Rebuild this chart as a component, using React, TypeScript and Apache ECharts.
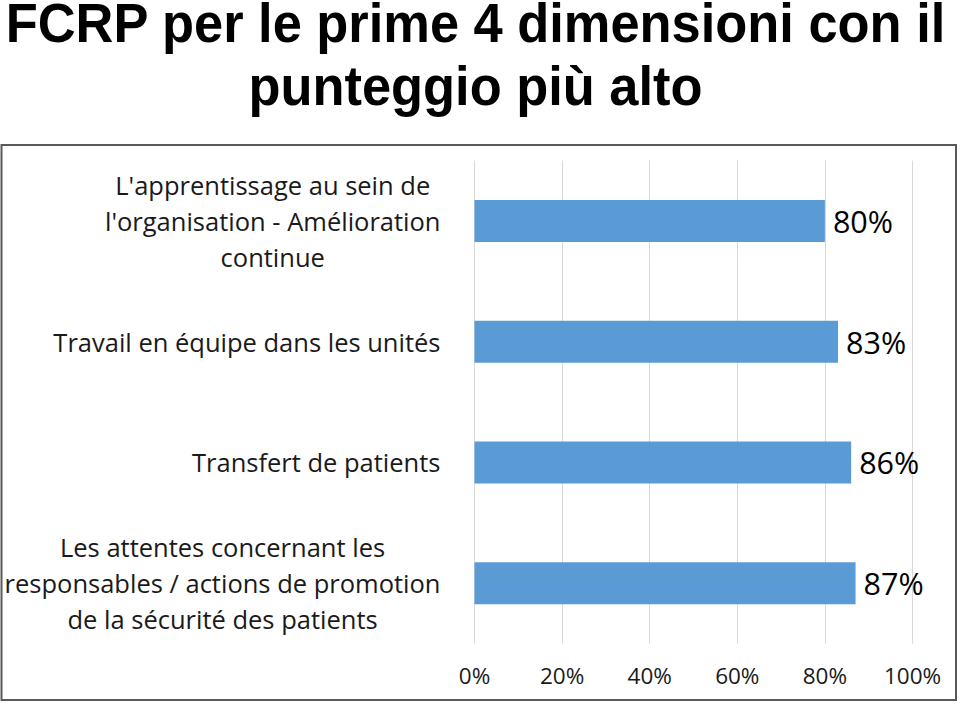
import React, { useEffect, useRef } from 'react';
import * as echarts from 'echarts';

const titleLines = ['FCRP per le prime 4 dimensioni con il', 'punteggio più alto'];
const categories = [
  "L'apprentissage au sein de\nl'organisation - Amélioration\ncontinue",
  'Travail en équipe dans les unités',
  'Transfert de patients',
  'Les attentes concernant les\nresponsables / actions de promotion\nde la sécurité des patients',
];
const values = [80, 83, 86, 87];
const xMin = 0;
const xMax = 100;
const xStep = 20;

const LABEL_FONT = '"Open Sans", "Noto Sans", sans-serif';
const TITLE_FONT = '"Liberation Sans", Arial, Helvetica, sans-serif';

export default function App() {
  const ref = useRef<HTMLDivElement>(null);
  useEffect(() => {
    document.body.style.margin = '0';
    const chart = echarts.init(ref.current!, null, { renderer: 'svg' });
    const titleSize = 56;
    const ctx = document.createElement('canvas').getContext('2d')!;
    ctx.font = `bold ${titleSize}px ${TITLE_FONT}`;
    const w1 = ctx.measureText(titleLines[0]).width || 1000;
    const sx = 941 / w1;

    chart.setOption({
      animation: false,
      grid: { left: 474.5, right: 960 - 912.5, top: 160.6, bottom: 704 - 643.6, containLabel: false },
      xAxis: {
        type: 'value',
        min: xMin,
        max: xMax,
        interval: xStep,
        axisLine: { show: false },
        axisTick: { show: false },
        splitLine: { show: true, lineStyle: { color: '#d9d9d9', width: 1 } },
        axisLabel: {
          formatter: '{value}%',
          fontFamily: LABEL_FONT,
          fontSize: 22.5,
          color: '#1a1a1a',
          margin: 20,
        },
      },
      yAxis: {
        type: 'category',
        data: categories,
        inverse: true,
        axisLine: { show: false },
        axisTick: { show: false },
        splitLine: { show: false },
        axisLabel: {
          margin: 34,
          align: 'right',
          formatter: (v: string) => v.split('\n').map((l) => `{c|${l}}`).join('\n'),
          rich: {
            c: {
              align: 'center',
              fontFamily: LABEL_FONT,
              fontSize: 25.5,
              lineHeight: 36,
              color: '#1a1a1a',
            },
          },
        },
      },
      series: [
        {
          type: 'bar',
          data: values,
          barWidth: 42,
          itemStyle: { color: '#5B9BD5' },
          label: {
            show: true,
            position: 'right',
            distance: 8,
            formatter: '{c}%',
            fontFamily: LABEL_FONT,
            fontSize: 30.5,
            color: '#000',
          },
        },
      ],
      graphic: [
        {
          type: 'rect',
          shape: { x: 1.5, y: 145, width: 954.5, height: 555 },
          style: { fill: 'none', stroke: '#595959', lineWidth: 2 },
          silent: true,
        },
        {
          type: 'text',
          x: 475.5,
          y: 22,
          scaleX: sx,
          style: {
            text: titleLines[0],
            font: `bold ${titleSize}px ${TITLE_FONT}`,
            lineHeight: 44,
            fill: '#000',
            textAlign: 'center',
            textVerticalAlign: 'middle',
          },
        },
        {
          type: 'text',
          x: 475.5,
          y: 85.5,
          scaleX: sx,
          style: {
            text: titleLines[1],
            font: `bold ${titleSize}px ${TITLE_FONT}`,
            lineHeight: 44,
            fill: '#000',
            textAlign: 'center',
            textVerticalAlign: 'middle',
          },
        },
      ],
    });
    return () => chart.dispose();
  }, []);
  return <div ref={ref} style={{ position: 'absolute', left: 0, top: 0, width: 960, height: 704 }} />;
}
